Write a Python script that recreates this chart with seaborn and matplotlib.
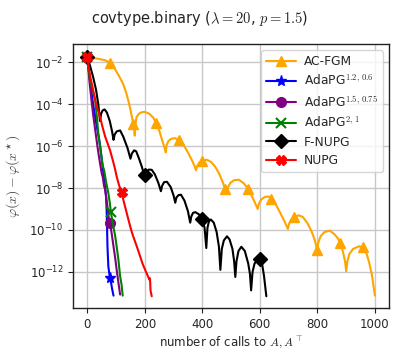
import numpy as np
import pandas as pd
import matplotlib
matplotlib.use("Agg")
import matplotlib.pyplot as plt
import seaborn as sns

# ---- data (x: number of calls, y: log10 of optimality gap) ----
acfgm_x = [0, 20, 40, 60, 70, 80, 95, 110, 125, 135, 142, 148, 155, 160, 163, 165, 167, 171, 180, 190,
           200, 215, 230, 240, 250, 260, 268, 273, 276, 282, 292, 305, 320, 335, 350, 365, 373, 378,
           382, 390, 400, 416, 430, 445, 460, 472, 480, 486, 490, 498, 510, 527, 545, 560, 575, 585,
           593, 597, 605, 617, 631, 640, 655, 670, 685, 693, 698, 702, 710, 720, 736, 750, 765, 780,
           792, 800, 804, 812, 825, 844, 860, 872, 880, 890, 897, 901, 905, 912, 925, 945, 960, 970,
           980, 990, 1001]
acfgm_y = [-1.77, -1.8, -1.84, -1.9, -1.96, -2.05, -2.3, -2.65, -3.05, -3.45, -3.8, -4.14, -4.6, -4.95,
           -5.25, -5.5, -5.0, -4.62, -4.45, -4.38, -4.37, -4.45, -4.65, -4.92, -5.25, -5.7, -6.05, -6.3,
           -5.95, -5.76, -5.65, -5.62, -5.73, -5.95, -6.3, -6.7, -6.95, -7.15, -6.95, -6.78, -6.7, -6.65,
           -6.75, -6.98, -7.35, -7.75, -8.05, -8.15, -7.95, -7.75, -7.63, -7.6, -7.78, -8.05, -8.45, -8.75,
           -9.0, -8.75, -8.55, -8.43, -8.4, -8.5, -8.75, -9.15, -9.55, -9.8, -9.95, -9.7, -9.5, -9.38,
           -9.3, -9.38, -9.65, -10.05, -10.5, -10.95, -10.6, -10.3, -10.1, -10.03, -10.2, -10.4, -10.6,
           -11.05, -11.5, -11.97, -11.5, -11.15, -10.9, -10.78, -10.82, -11.05, -11.5, -12.1, -13.13]
acfgm_marks = [80, 160, 240, 320, 400, 480, 560, 640, 720, 800, 880, 960]

ada1_x = [0, 10, 20, 32, 44, 55, 62, 65, 67, 68, 70, 73, 78, 80, 86, 91]
ada1_y = [-1.75, -3.0, -4.0, -5.0, -5.93, -7.2, -8.0, -8.4, -9.0, -9.51, -10.78, -11.73, -12.25, -12.3,
          -12.8, -13.13]
ada1_marks = [0, 80]

ada2_x = [0, 8, 15, 21, 30, 37, 44, 50, 54, 58, 62, 70, 76, 79, 85, 91, 97, 102, 108, 114]
ada2_y = [-1.75, -3.0, -3.9, -4.59, -5.5, -6.2, -6.81, -7.3, -7.5, -7.9, -8.08, -8.9, -9.6, -9.67,
          -10.2, -10.78, -11.35, -11.9, -12.5, -13.08]
ada2_marks = [0, 79]

ada3_x = [0, 5, 10, 18, 27, 33, 38, 46, 54, 58, 65, 73, 78, 82, 90, 97, 103, 108, 114, 119, 123]
ada3_y = [-1.75, -2.4, -2.9, -3.3, -3.8, -4.6, -5.38, -6.2, -6.97, -7.13, -7.7, -8.24, -8.7, -9.16,
          -9.8, -10.3, -10.9, -11.41, -12.21, -12.6, -13.13]
ada3_marks = [0, 82]

fnupg_x = [0, 10, 20, 30, 38, 44, 48, 53, 60, 68, 78, 86, 91, 95, 102, 114, 125, 140, 150, 155, 163,
           170, 180, 190, 196, 200, 206, 214, 224, 235, 247, 256, 260, 267, 277, 290, 300, 306, 310,
           318, 326, 338, 350, 358, 362, 368, 376, 388, 400, 408, 414, 418, 423, 430, 440, 450, 458,
           463, 468, 475, 486, 495, 505, 511, 515, 519, 526, 536, 548, 560, 566, 570, 575, 582, 592,
           600, 608, 615, 623]
fnupg_y = [-1.75, -2.2, -2.7, -3.3, -4.0, -4.8, -4.45, -4.3, -4.25, -4.4, -4.8, -5.3, -5.7, -5.45,
           -5.3, -5.25, -5.55, -6.1, -6.6, -6.35, -6.2, -6.25, -6.6, -7.0, -7.3, -7.37, -7.2, -7.12,
           -7.13, -7.35, -7.75, -8.15, -7.9, -7.72, -7.7, -7.95, -8.35, -8.7, -8.45, -8.33, -8.32, -8.6,
           -9.1, -9.65, -9.35, -9.18, -9.15, -9.25, -9.47, -9.9, -10.86, -9.9, -9.6, -9.5, -9.65, -10.1,
           -10.8, -11.9, -10.9, -10.5, -10.3, -10.45, -10.9, -11.5, -12.24, -11.5, -11.0, -10.8, -11.0,
           -11.6, -12.1, -12.88, -12.0, -11.6, -11.4, -11.37, -11.6, -12.2, -13.16]
fnupg_marks = [0, 200, 400, 600]

nupg_x = [0, 5, 10, 15, 27, 35, 44, 53, 62, 70, 79, 85, 91, 97, 102, 108, 113, 120, 124, 131, 140,
          149, 157, 166, 175, 184, 192, 201, 209, 216, 218, 220, 224]
nupg_y = [-1.75, -2.3, -2.7, -3.0, -3.8, -4.2, -4.6, -5.1, -5.55, -5.85, -6.2, -6.5, -6.8, -7.13,
          -7.45, -7.75, -7.98, -8.2, -8.5, -8.87, -9.35, -9.83, -10.2, -10.55, -10.9, -11.27, -11.6,
          -11.9, -12.15, -12.37, -12.3, -12.9, -13.16]
nupg_marks = [0, 120]

series = [
    ("AC-FGM", acfgm_x, acfgm_y, acfgm_marks, "orange", "^"),
    ("AdaPG$^{1.2,\\,0.6}$", ada1_x, ada1_y, ada1_marks, "blue", "*"),
    ("AdaPG$^{1.5,\\,0.75}$", ada2_x, ada2_y, ada2_marks, "purple", "o"),
    ("AdaPG$^{2,\\,1}$", ada3_x, ada3_y, ada3_marks, "green", "x"),
    ("F-NUPG", fnupg_x, fnupg_y, fnupg_marks, "black", "D"),
    ("NUPG", nupg_x, nupg_y, nupg_marks, "red", "X"),
]

sns.set_style("ticks")
plt.rcParams["font.family"] = ["DejaVu Sans"]
plt.rcParams["mathtext.fontset"] = "cm"

fig = plt.figure(figsize=(3.99, 3.58), dpi=100)
ax = fig.add_axes([73 / 399, 1 - 308 / 358, (389 - 73) / 399, (308 - 44) / 358])

for label, xs, ys, marks, color, mk in series:
    df = pd.DataFrame({"x": xs, "y": np.power(10.0, ys)})
    idx = [list(xs).index(m) for m in marks]
    sns.lineplot(data=df, x="x", y="y", ax=ax, color=color, label=label, marker=mk,
                 markevery=idx, markersize=7 if mk not in ("*",) else 8,
                 linewidth=1.5, sort=False, estimator=None,
                 markeredgecolor=color, markeredgewidth=1.5 if mk == "x" else 1.0)

ax.set_yscale("log")
ax.set_xlim(-50, 1050)
ax.set_ylim(10 ** -13.72, 10 ** -1.13)
ax.set_xticks([0, 200, 400, 600, 800, 1000])
ax.set_yticks([1e-2, 1e-4, 1e-6, 1e-8, 1e-10, 1e-12])
ax.yaxis.set_minor_locator(matplotlib.ticker.NullLocator())
ax.grid(True, color="#c8c8c8", linewidth=1.0)
for s in ax.spines.values():
    s.set_color("#222222")
    s.set_linewidth(1.0)
ax.tick_params(labelsize=8.5, length=3.5, width=0.8, color="#222222")

ax.set_xlabel("number of calls to $A, A^\\top$", fontsize=8.5, labelpad=3)
ax.set_ylabel("$\\varphi(x) - \\varphi(x^\\star)$", fontsize=10, labelpad=5, color="#444444")
fig.suptitle("covtype.binary ($\\lambda = 20$, $p = 1.5$)", fontsize=10.5, y=0.975)

leg = ax.legend(loc="upper right", fontsize=8.8, frameon=True, framealpha=0.8,
                borderpad=0.4, labelspacing=0.45, handlelength=2.4, handletextpad=0.7)
leg.get_frame().set_edgecolor("#cccccc")

fig.savefig("out.png", dpi=100)
